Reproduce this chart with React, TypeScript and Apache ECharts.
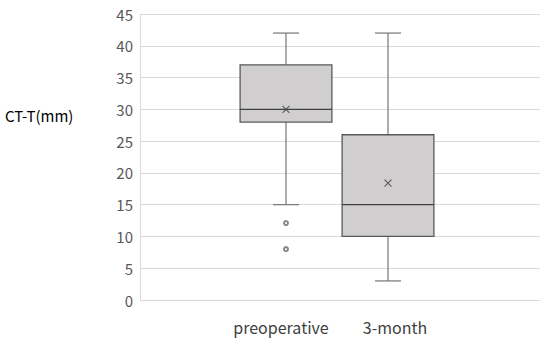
import React, { useEffect, useRef } from "react";
import * as echarts from "echarts";

const categories = ["preoperative", "3-month"];
const lows = [15, 3];
const q1s = [28, 10];
const medians = [30, 15];
const q3s = [37, 26];
const highs = [42, 42];
const means = [30, 18.4];
const outliers: [number, number][] = [
  [0, 12.1],
  [0, 8],
];
const yTicks = { min: 0, max: 45, interval: 5 };
const yTitle = "CT-T(mm)";

const FONT = "'Noto Sans CJK JP', 'Noto Sans', sans-serif";

export default function App() {
  const ref = useRef<HTMLDivElement>(null);
  useEffect(() => {
    if (!ref.current) return;
    document.body.style.margin = "0";
    const chart = echarts.init(ref.current, undefined, { renderer: "svg" });
    const boxData = categories.map((_, i) => [i, lows[i], q1s[i], medians[i], q3s[i], highs[i]]);
    const labelPads = [
      [0, 10, 0, 0],
      [0, 0, 0, 14],
    ];
    const option: any = {
      animation: false,
      textStyle: { fontFamily: FONT },
      grid: [
        { left: 140, right: 10, top: 14, bottom: 43 },
        { left: 235, width: 204, top: 14, bottom: 43 },
      ],
      xAxis: [
        {
          gridIndex: 0,
          type: "category",
          data: [""],
          axisLine: { show: true, lineStyle: { color: "#d9d9d9" } },
          axisTick: { show: false },
          axisLabel: { show: false },
        },
        {
          gridIndex: 1,
          type: "category",
          data: categories.map((c, i) => ({ value: c, textStyle: { padding: labelPads[i] } })),
          axisLine: { show: false },
          axisTick: { show: false },
          axisLabel: { color: "#404040", fontSize: 16, margin: 19, interval: 0, fontFamily: FONT },
        },
      ],
      yAxis: [
        {
          gridIndex: 0,
          type: "value",
          min: yTicks.min,
          max: yTicks.max,
          interval: yTicks.interval,
          axisLine: { show: true, lineStyle: { color: "#d9d9d9" } },
          axisTick: { show: false },
          axisLabel: { color: "#595959", fontSize: 15, margin: 7, fontFamily: FONT },
          splitLine: { show: true, lineStyle: { color: "#d9d9d9", width: 1 } },
        },
        {
          gridIndex: 1,
          type: "value",
          min: yTicks.min,
          max: yTicks.max,
          interval: yTicks.interval,
          show: false,
          splitLine: { show: false },
        },
      ],
      graphic: [
        {
          type: "text",
          left: 5,
          top: 108,
          style: { text: yTitle, fontSize: 15, fill: "#000", fontFamily: FONT },
        },
      ],
      series: [
        {
          type: "custom",
          xAxisIndex: 1,
          yAxisIndex: 1,
          data: boxData,
          encode: { x: 0, y: [1, 2, 3, 4, 5] },
          renderItem: (params: any, api: any) => {
            const i = api.value(0);
            const pLow = api.coord([i, api.value(1)]);
            const pQ1 = api.coord([i, api.value(2)]);
            const pMed = api.coord([i, api.value(3)]);
            const pQ3 = api.coord([i, api.value(4)]);
            const pHigh = api.coord([i, api.value(5)]);
            const band = api.size([1, 0])[0];
            const bw = band * 0.9;
            const cw = 26;
            const cx = pMed[0];
            const wStyle = { stroke: "#767676", lineWidth: 1.2 };
            return {
              type: "group",
              children: [
                { type: "line", shape: { x1: cx, y1: pHigh[1], x2: cx, y2: pQ3[1] }, style: wStyle },
                { type: "line", shape: { x1: cx, y1: pQ1[1], x2: cx, y2: pLow[1] }, style: wStyle },
                { type: "line", shape: { x1: cx - cw / 2, y1: pHigh[1], x2: cx + cw / 2, y2: pHigh[1] }, style: wStyle },
                { type: "line", shape: { x1: cx - cw / 2, y1: pLow[1], x2: cx + cw / 2, y2: pLow[1] }, style: wStyle },
                {
                  type: "rect",
                  shape: { x: cx - bw / 2, y: pQ3[1], width: bw, height: pQ1[1] - pQ3[1] },
                  style: { fill: "#d0cece", stroke: "#595959", lineWidth: 1.3 },
                },
                {
                  type: "line",
                  shape: { x1: cx - bw / 2, y1: pMed[1], x2: cx + bw / 2, y2: pMed[1] },
                  style: { stroke: "#404040", lineWidth: 1.3 },
                },
              ],
            };
          },
          z: 2,
        },
        {
          type: "scatter",
          xAxisIndex: 1,
          yAxisIndex: 1,
          data: means.map((m, i) => [i, m]),
          symbol: "path://M0,0L10,10M10,0L0,10",
          symbolSize: 7,
          itemStyle: { color: "none", borderColor: "#404040", borderWidth: 1.2 },
          z: 5,
        },
        {
          type: "scatter",
          xAxisIndex: 1,
          yAxisIndex: 1,
          data: outliers,
          symbol: "emptyCircle",
          symbolSize: 4,
          itemStyle: { color: "#6b6b6b", borderColor: "#6b6b6b", borderWidth: 0.8 },
          z: 5,
        },
      ],
    };
    chart.setOption(option);
    return () => chart.dispose();
  }, []);
  return <div ref={ref} style={{ width: 550, height: 343 }} />;
}
